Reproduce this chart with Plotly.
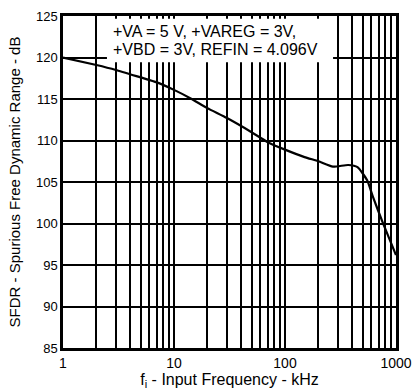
import plotly.graph_objects as go

freq_khz = [1, 2, 3, 5, 7, 10, 14, 20, 30, 50, 70, 100, 150, 200, 270, 370, 450, 550, 620, 760, 1000]
sfdr_db = [120.0, 119.1, 118.5, 117.6, 117.0, 116.1, 115.1, 113.9, 112.7, 111.0, 109.8, 108.9, 108.0, 107.5,
           106.85, 107.05, 106.8, 105.2, 103.2, 100.1, 96.2]

x_ticks = [1, 10, 100, 1000]
x_tick_labels = ["1", "10", "100", "1000"]
y_ticks = [85, 90, 95, 100, 105, 110, 115, 120, 125]

note_lines = ["+VA = 5 V, +VAREG = 3V,", "+VBD = 3V, REFIN = 4.096V"]

FONT = "Liberation Sans, Arial, Helvetica, sans-serif"

fig = go.Figure()
fig.add_trace(go.Scatter(
    x=freq_khz, y=sfdr_db, mode="lines",
    line=dict(color="black", width=2.2, shape="spline", smoothing=0.5),
    showlegend=False, hoverinfo="skip",
))

fig.update_layout(
    width=412, height=392,
    margin=dict(l=63, r=16, t=16, b=44, autoexpand=False),
    paper_bgcolor="white", plot_bgcolor="white",
    font=dict(family=FONT, size=13, color="black"),
    xaxis=dict(
        type="log", range=[0, 3],
        tickvals=x_ticks, ticktext=x_tick_labels,
        showgrid=True, gridcolor="black", gridwidth=1.5,
        minor=dict(dtick="D1", showgrid=True, gridcolor="black", gridwidth=1.5, ticks=""),
        showline=True, linecolor="black", linewidth=2.5, mirror=True,
        ticks="", zeroline=False, automargin=False,
        title=dict(text="f<sub>i</sub> - Input Frequency - kHz", font=dict(size=16), standoff=0),
        tickfont=dict(size=14),
    ),
    yaxis=dict(
        range=[85, 125], tickvals=y_ticks,
        showgrid=True, gridcolor="black", gridwidth=1.5,
        showline=True, linecolor="black", linewidth=2.5, mirror=True,
        ticks="", zeroline=False, automargin=False,
        title=dict(text="SFDR - Spurious Free Dynamic Range - dB", font=dict(size=15), standoff=12),
        tickfont=dict(size=13),
    ),
    shapes=[dict(
        type="rect", xref="paper", yref="paper",
        x0=0.132, x1=0.811, y0=0.861, y1=0.992,
        fillcolor="white", line=dict(width=0), layer="above",
    )],
)

for line_text, ypos in zip(note_lines, [0.952, 0.898]):
    fig.add_annotation(
        xref="paper", yref="paper", x=0.148, y=ypos,
        xanchor="left", yanchor="middle",
        text=line_text, showarrow=False, align="left",
        borderpad=0,
        font=dict(size=16, family=FONT, color="black"),
    )

fig.write_html("out.html")
